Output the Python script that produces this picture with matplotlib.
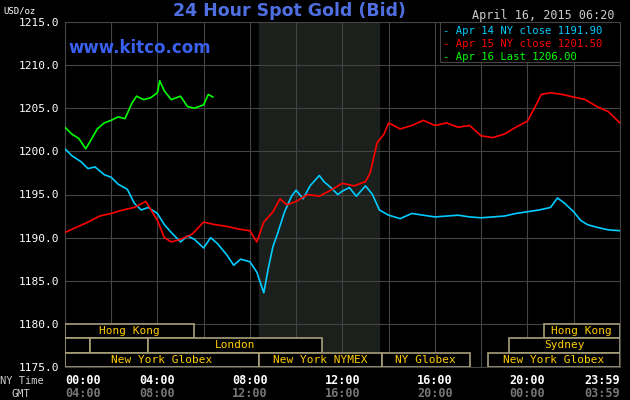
import matplotlib
matplotlib.use("Agg")
import matplotlib.pyplot as plt
import numpy as np

blue_t = [0,0.3,0.7,1,1.3,1.7,2,2.3,2.7,3,3.3,3.6,4,4.3,4.6,5,5.3,5.6,6,6.3,6.6,7,7.3,7.6,8,8.3,8.6,8.8,9,9.2,9.5,9.8,10,10.3,10.6,11,11.2,11.5,11.8,12,12.3,12.6,13,13.3,13.6,14,14.5,15,16,17,17.5,18,19,19.5,20,20.5,21,21.3,21.6,22,22.3,22.6,23,23.5,24]
blue_v = [1200.3,1199.5,1198.8,1198.0,1198.2,1197.3,1197.0,1196.2,1195.6,1194.0,1193.2,1193.5,1192.8,1191.5,1190.6,1189.5,1190.2,1189.8,1188.8,1190.0,1189.3,1188.0,1186.8,1187.5,1187.2,1186.0,1183.6,1186.5,1189.0,1190.5,1193.0,1194.8,1195.5,1194.5,1196.0,1197.2,1196.5,1195.8,1195.0,1195.4,1195.8,1194.8,1196.0,1195.0,1193.2,1192.6,1192.2,1192.8,1192.4,1192.6,1192.4,1192.3,1192.5,1192.8,1193.0,1193.2,1193.5,1194.6,1194.0,1193.0,1192.0,1191.5,1191.2,1190.9,1190.8]

red_t = [0,0.5,1,1.5,2,2.5,3,3.5,4,4.3,4.6,5,5.5,6,6.5,7,7.5,8,8.3,8.6,9,9.3,9.6,10,10.5,11,11.5,12,12.5,13,13.2,13.5,13.8,14,14.5,15,15.5,16,16.5,17,17.5,18,18.5,19,19.5,20,20.3,20.6,21,21.5,22,22.5,23,23.5,24]
red_v = [1190.6,1191.2,1191.8,1192.5,1192.8,1193.2,1193.5,1194.2,1192.0,1190.0,1189.5,1189.8,1190.4,1191.8,1191.5,1191.3,1191.0,1190.8,1189.5,1191.8,1193.0,1194.5,1193.8,1194.2,1195.0,1194.8,1195.5,1196.3,1196.0,1196.5,1197.5,1201.0,1202.0,1203.3,1202.6,1203.0,1203.6,1203.0,1203.3,1202.8,1203.0,1201.8,1201.6,1202.0,1202.8,1203.5,1205.0,1206.6,1206.8,1206.6,1206.3,1206.0,1205.2,1204.6,1203.3]

green_t = [0,0.3,0.6,0.9,1.1,1.4,1.7,2,2.3,2.6,2.9,3.1,3.4,3.7,4,4.1,4.3,4.6,5,5.3,5.6,6,6.2,6.4]
green_v = [1202.8,1202.0,1201.5,1200.3,1201.2,1202.6,1203.3,1203.6,1204.0,1203.8,1205.6,1206.4,1206.0,1206.2,1206.8,1208.2,1207.0,1206.0,1206.4,1205.2,1205.0,1205.4,1206.6,1206.3]

legend_labels = ["Apr 14 NY close 1191.90", "Apr 15 NY close 1201.50", "Apr 16 Last 1206.00"]
colors = ["#00ccff", "#ff0000", "#00ff00"]
ny_ticks = ["00:00","04:00","08:00","12:00","16:00","20:00","23:59"]
gmt_ticks = ["04:00","08:00","12:00","16:00","20:00","00:00","03:59"]
sessions = [(0,5.6,0,"Hong Kong"),(20.7,24,0,"Hong Kong"),
            (0,1.1,1,""),(1.1,3.6,1,""),(3.6,11.1,1,"London"),(19.2,24,1,"Sydney"),
            (0,8.4,2,"New York Globex"),(8.4,13.7,2,"New York NYMEX"),(13.7,17.5,2,"NY Globex"),(18.3,24,2,"New York Globex")]

mono = "DejaVu Sans Mono"
fig = plt.figure(figsize=(6.3,4.0), dpi=100, facecolor="black")
ax = fig.add_axes([0.103,0.0825,0.881,0.8625], facecolor="black")
ax.set_xlim(0,24); ax.set_ylim(1175,1215)
ax.axvspan(8.4,13.6,color="#1c201c",zorder=0)
for x in np.arange(0,24.1,2):
    ax.axvline(x,color="#444444",lw=0.8,zorder=1)
for y in np.arange(1175,1215.1,5):
    ax.axhline(y,color="#444444",lw=0.8,zorder=1)
ax.plot(blue_t,blue_v,color=colors[0],lw=1.2,zorder=3)
ax.plot(red_t,red_v,color=colors[1],lw=1.2,zorder=3)
ax.plot(green_t,green_v,color=colors[2],lw=1.2,zorder=3)
rowh = (1180-1175)/3
for s,e,r,l in sessions:
    y0 = 1180 - (r+1)*rowh
    ax.add_patch(plt.Rectangle((s,y0),e-s,rowh,fill=True,facecolor="black",edgecolor="#a8a07a",lw=1.2,zorder=4))
    if l:
        ax.text((s+e)/2,y0+rowh/2,l,color="#ffcc00",fontsize=8,family=mono,ha="center",va="center",zorder=5)
yt = [1175,1180,1185,1190,1195,1200,1205,1210,1215]
ax.set_xticks([]); ax.set_yticks(yt)
ax.set_yticklabels(["%.1f"%v for v in yt],color="white",family=mono,fontsize=8)
ax.tick_params(axis="y",length=0,pad=4)
for sp in ax.spines.values(): sp.set_color("#444444")
ax.add_patch(plt.Rectangle((16.2,1210.4),7.8,4.6,facecolor="black",edgecolor="#444444",lw=0.8,zorder=6))
for i,(lab,c) in enumerate(zip(legend_labels,colors)):
    ax.text(16.35,1213.9-i*1.45,"- "+lab,color=c,family=mono,fontsize=7.6,va="center",zorder=7)
fig.text(0.46,0.972,"24 Hour Spot Gold (Bid)",color="#4f6fe0",fontsize=12.5,fontweight="bold",ha="center",va="center")
fig.text(0.975,0.962,"April 16, 2015 06:20",color="#cccccc",fontsize=8.5,family=mono,ha="right",va="center")
fig.text(0.108,0.88,"www.kitco.com",color="#3a60f0",fontsize=12,fontweight="bold",va="center")
fig.text(0.005,0.972,"USD/oz",color="white",fontsize=6.5,family=mono,va="center")
fig.text(0.0,0.048,"NY Time",color="#cccccc",fontsize=7.5,family=mono,va="center")
fig.text(0.018,0.016,"GMT",color="#cccccc",fontsize=7.5,family=mono,va="center")
xs = [0,4,8,12,16,20,24]
for x,a,b in zip(xs,ny_ticks,gmt_ticks):
    fx = 0.103 + 0.881*x/24
    ha = "left" if x==0 else ("right" if x==24 else "center")
    fig.text(fx,0.048,a,color="white",fontsize=8.5,family=mono,fontweight="bold",ha=ha,va="center")
    fig.text(fx,0.016,b,color="#777777",fontsize=8.5,family=mono,fontweight="bold",ha=ha,va="center")
fig.savefig("out.png",dpi=100,facecolor="black")
